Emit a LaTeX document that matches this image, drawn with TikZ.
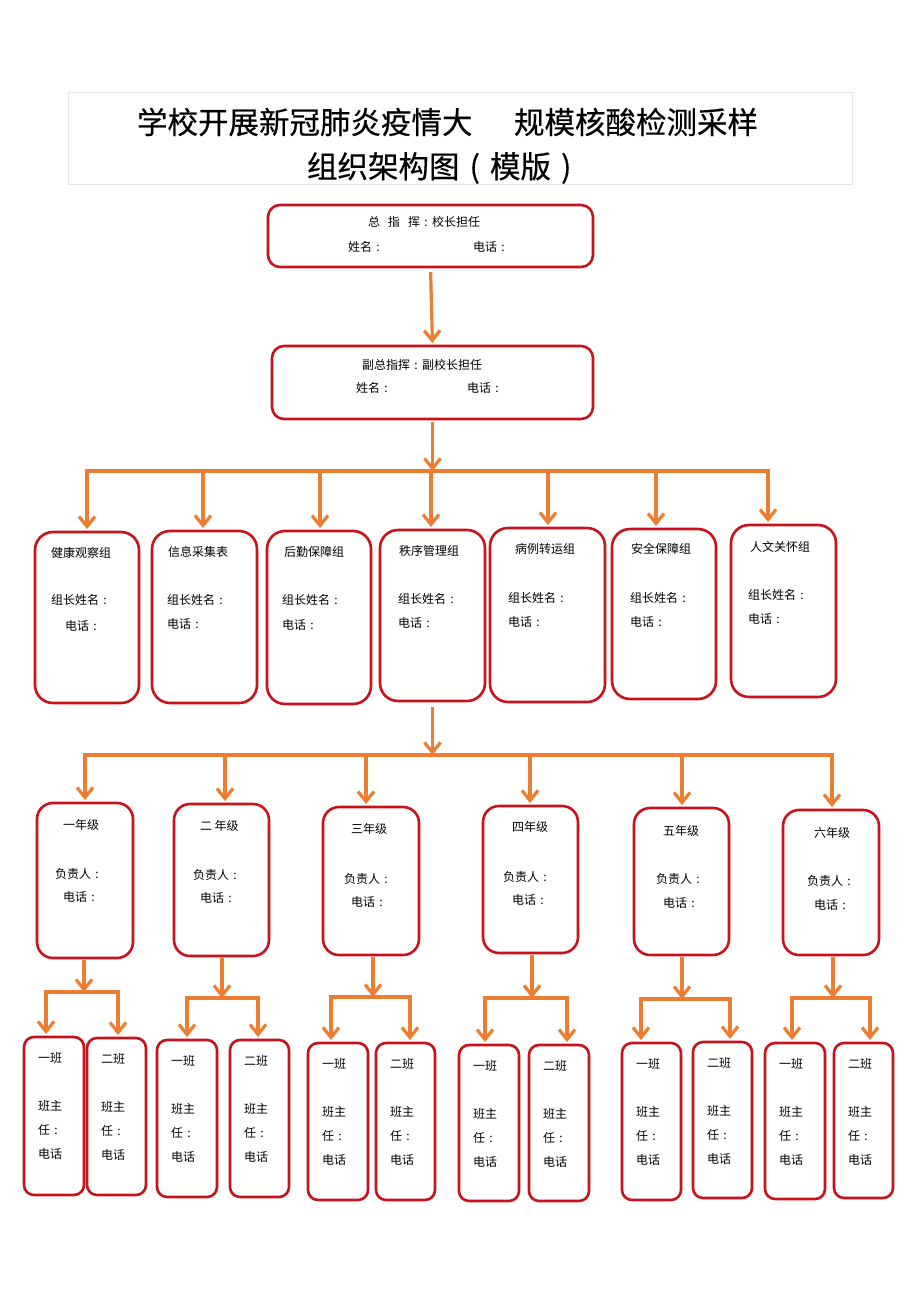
\documentclass[tikz,border=0pt]{standalone}
\usepackage{fontspec}
\newfontfamily\cjk{Noto Sans CJK SC}
\newfontfamily\cjkt{Noto Sans CJK SC}[FakeBold=0.4]
\usetikzlibrary{arrows.meta}
\definecolor{boxred}{RGB}{200,18,28}
\definecolor{arrorange}{RGB}{237,125,49}
\definecolor{framegray}{RGB}{228,228,228}
\newcommand\cc{\makebox[1em][c]{:}}
\newcommand\lp{\makebox[1em][c]{(}}
\newcommand\rp{\makebox[1em][c]{)}}
% name, left, top, right, bottom, radius
\newcommand\drawbox[6]{%
  \node[rbox, rounded corners=#6pt, minimum width={#4-#2}, minimum height={#5-#3}] (#1) at ({(#2+#4)/2},{(#3+#5)/2}) {};}
% name, left, top, label
\newcommand\classtext[4]{%
  \node[txt] (#1a) at ({#2+14},{#3+21}) {#4};
  \node[txt] (#1b) at ({#2+14},{#3+69}) {班主};
  \node[txt] (#1c) at ({#2+14},{#3+93}) {任\cc};
  \node[txt] (#1d) at ({#2+14},{#3+117}) {电话};}
\begin{document}
\begin{tikzpicture}[x=1pt,y=-1pt,
  every node/.style={font=\cjk\fontsize{12}{14}\selectfont, inner sep=0pt, outer sep=0pt},
  rbox/.style={draw=boxred, line width=2.6pt, fill=white},
  txt/.style={anchor=west},
  conn/.style={draw=arrorange, line width=3.2pt},
  bar/.style={conn, line cap=rect},
  arr/.style={conn, -{Straight Barb[length=10pt,width=16pt]}},
  titletxt/.style={anchor=west, font=\cjkt\fontsize{30.5}{34}\selectfont},
]
\fill[white] (0,0) rectangle (920,1303);
\useasboundingbox (0,0) rectangle (920,1303);

% title
\node[draw=framegray, line width=0.8pt, minimum width=784, minimum height=92] (frame) at (460,138) {};
\node[titletxt] (title1) at (137,122) {学校开展新冠肺炎疫情大};
\node[titletxt] (title2) at (514,122) {规模核酸检测采样};
\node[titletxt] (title3) at (307,168) {组织架构图\lp 模版\rp};

% command boxes
\drawbox{top}{268}{205}{593}{267}{12}
\node[txt] (topa) at (368,222) {总\hspace{8pt}指\hspace{8pt}挥\cc 校长担任};
\node[txt] (topb) at (348,247) {姓名\cc};
\node[txt] (topc) at (473,247) {电话\cc};
\drawbox{vice}{272}{346}{593}{419}{12}
\node[txt] (vicea) at (362,365) {副总指挥\cc 副校长担任};
\node[txt] (viceb) at (356,388) {姓名\cc};
\node[txt] (vicec) at (467,388) {电话\cc};
\draw[arr, shorten <=5pt, shorten >=3pt] (top.south) -- (vice.north);

% groups
\drawbox{g1}{35}{532}{139}{703}{18}
\drawbox{g2}{152}{531}{257}{703}{18}
\drawbox{g3}{267}{531}{371}{704}{18}
\drawbox{g4}{380}{530}{485}{701}{18}
\drawbox{g5}{490}{528}{605}{702}{18}
\drawbox{g6}{612}{529}{716}{699}{18}
\drawbox{g7}{731}{525}{836}{697}{18}
\node[txt] (g1a) at (51,553) {健康观察组};
\node[txt] (g1b) at (51,600) {组长姓名\cc};
\node[txt] (g1c) at (65,626) {电话\cc};
\node[txt] (g2a) at (168,552) {信息采集表};
\node[txt] (g2b) at (167,600) {组长姓名\cc};
\node[txt] (g2c) at (167,624) {电话\cc};
\node[txt] (g3a) at (284,552) {后勤保障组};
\node[txt] (g3b) at (282,600) {组长姓名\cc};
\node[txt] (g3c) at (282,625) {电话\cc};
\node[txt] (g4a) at (399,551) {秩序管理组};
\node[txt] (g4b) at (398,599) {组长姓名\cc};
\node[txt] (g4c) at (398,623) {电话\cc};
\node[txt] (g5a) at (515,549) {病例转运组};
\node[txt] (g5b) at (508,598) {组长姓名\cc};
\node[txt] (g5c) at (508,622) {电话\cc};
\node[txt] (g6a) at (631,549) {安全保障组};
\node[txt] (g6b) at (630,598) {组长姓名\cc};
\node[txt] (g6c) at (630,622) {电话\cc};
\node[txt] (g7a) at (750,547) {人文关怀组};
\node[txt] (g7b) at (748,595) {组长姓名\cc};
\node[txt] (g7c) at (748,619) {电话\cc};

\coordinate (b1m) at (432,471);
\coordinate (b1l) at (87,471);
\coordinate (b1r) at (768,471);
\draw[arr, shorten <=3pt] (vice.south) -- (vice.south |- b1m);
\draw[bar] (b1l) -- (b1r);
\foreach \x/\g in {87/g1,203/g2,320/g3,431/g4,548/g5,656/g6,768/g7}{
  \coordinate (a\g) at (\x,471);
  \draw[arr, shorten >=3pt] (a\g) -- (a\g |- \g.north);
}

% grades
\drawbox{r1}{37}{803}{133}{958}{16}
\drawbox{r2}{174}{804}{269}{956}{16}
\drawbox{r3}{323}{807}{419}{955}{16}
\drawbox{r4}{483}{806}{578}{953}{16}
\drawbox{r5}{634}{808}{729}{955}{16}
\drawbox{r6}{783}{810}{879}{955}{16}
\node[txt] (r1a) at (63,825) {一年级};
\node[txt] (r1b) at (55,874) {负责人\cc};
\node[txt] (r1c) at (63,897) {电话\cc};
\node[txt] (r2a) at (200,826) {二 年级};
\node[txt] (r2b) at (193,875) {负责人\cc};
\node[txt] (r2c) at (200,898) {电话\cc};
\node[txt] (r3a) at (351,829) {三年级};
\node[txt] (r3b) at (344,879) {负责人\cc};
\node[txt] (r3c) at (351,902) {电话\cc};
\node[txt] (r4a) at (512,827) {四年级};
\node[txt] (r4b) at (503,877) {负责人\cc};
\node[txt] (r4c) at (512,900) {电话\cc};
\node[txt] (r5a) at (663,831) {五年级};
\node[txt] (r5b) at (656,879) {负责人\cc};
\node[txt] (r5c) at (663,903) {电话\cc};
\node[txt] (r6a) at (814,833) {六年级};
\node[txt] (r6b) at (807,881) {负责人\cc};
\node[txt] (r6c) at (814,905) {电话\cc};

\coordinate (b2m) at (434,755);
\coordinate (b2l) at (85,755);
\coordinate (b2r) at (832,755);
\draw[arr, shorten <=6pt] (g4.south) -- (g4.south |- b2m);
\draw[bar] (b2l) -- (b2r);
\foreach \x/\g in {85/r1,225/r2,366/r3,530/r4,682/r5,832/r6}{
  \coordinate (a\g) at (\x,755);
  \draw[arr, shorten >=3pt] (a\g) -- (a\g |- \g.north);
}

% classes
\drawbox{c11}{24}{1037}{84}{1195}{10}
\drawbox{c12}{87}{1038}{146}{1195}{10}
\drawbox{c21}{157}{1040}{217}{1197}{10}
\drawbox{c22}{230}{1040}{289}{1197}{10}
\drawbox{c31}{308}{1043}{368}{1200}{10}
\drawbox{c32}{376}{1043}{435}{1200}{10}
\drawbox{c41}{459}{1045}{519}{1201}{10}
\drawbox{c42}{529}{1045}{589}{1201}{10}
\drawbox{c51}{622}{1043}{681}{1200}{10}
\drawbox{c52}{693}{1042}{752}{1198}{10}
\drawbox{c61}{765}{1043}{825}{1199}{10}
\drawbox{c62}{834}{1043}{893}{1198}{10}
\classtext{c11}{24}{1037}{一班}
\classtext{c12}{87}{1038}{二班}
\classtext{c21}{157}{1040}{一班}
\classtext{c22}{230}{1040}{二班}
\classtext{c31}{308}{1043}{一班}
\classtext{c32}{376}{1043}{二班}
\classtext{c41}{459}{1045}{一班}
\classtext{c42}{529}{1045}{二班}
\classtext{c51}{622}{1043}{一班}
\classtext{c52}{693}{1042}{二班}
\classtext{c61}{765}{1043}{一班}
\classtext{c62}{834}{1043}{二班}

\foreach \r/\xc/\y/\xl/\xr in {1/84/992/46/118, 2/222/998/187/258, 3/373/997/331/410, 4/532/998/485/567, 5/682/999/641/730, 6/833/998/792/870}{
  \coordinate (m\r) at (\xc,\y);
  \coordinate (l\r) at (\xl,\y);
  \coordinate (q\r) at (\xr,\y);
  \draw[arr, shorten <=2pt] (m\r |- r\r.south) -- (m\r);
  \draw[bar] (l\r) -- (q\r);
  \draw[arr, shorten >=3pt] (l\r) -- (l\r |- c\r1.north);
  \draw[arr, shorten >=3pt] (q\r) -- (q\r |- c\r2.north);
}
\end{tikzpicture}
\end{document}
